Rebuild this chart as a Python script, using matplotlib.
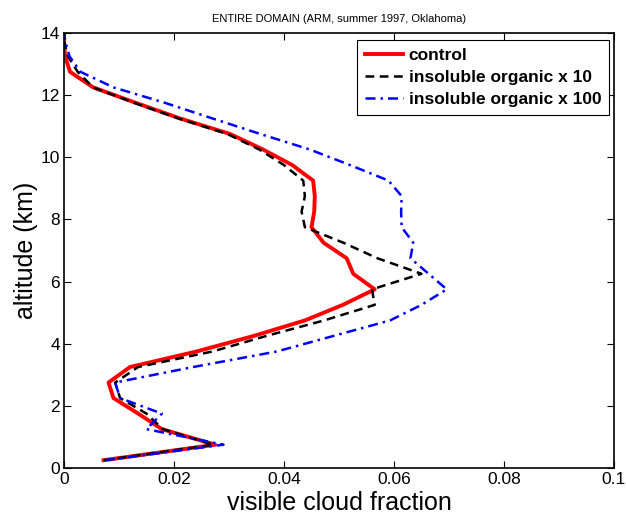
import matplotlib
matplotlib.use("Agg")
import matplotlib.pyplot as plt

plt.rcParams['font.family'] = ['Liberation Sans', 'DejaVu Sans']

# model levels (km) and visible cloud fraction for each run
altitude = [0.25, 0.75, 1.25, 1.75, 2.25, 2.75, 3.25, 3.75, 4.25, 4.75,
            5.25, 5.75, 6.25, 6.75, 7.25, 7.75, 8.25, 8.75, 9.25, 9.75,
            10.25, 10.75, 11.25, 11.75, 12.25, 12.75, 13.25, 13.75, 14.25]

control = [0.0072, 0.0275, 0.0178, 0.0135, 0.0090, 0.0081, 0.0120, 0.0241, 0.0345, 0.0438,
           0.0507, 0.0565, 0.0526, 0.0514, 0.0472, 0.0450, 0.0455, 0.0456, 0.0453, 0.0415,
           0.0362, 0.0302, 0.0211, 0.0131, 0.0053, 0.0011, 0.0002, 0.0, 0.0]

organic_x10 = [0.0072, 0.0272, 0.0180, 0.0150, 0.0102, 0.0093, 0.0135, 0.0270, 0.0368, 0.0473,
               0.0565, 0.0560, 0.0650, 0.0570, 0.0508, 0.0438, 0.0432, 0.0438, 0.0435, 0.0400,
               0.0355, 0.0297, 0.0208, 0.0128, 0.0053, 0.0025, 0.0007, 0.0, 0.0]

organic_x100 = [0.0075, 0.0290, 0.0150, 0.0178, 0.0102, 0.0093, 0.0235, 0.0387, 0.0490, 0.0593,
                0.0650, 0.0696, 0.0663, 0.0630, 0.0635, 0.0614, 0.0613, 0.0614, 0.0590, 0.0520,
                0.0447, 0.0357, 0.0270, 0.0184, 0.0090, 0.0030, 0.0010, 0.0002, 0.0]

run_names = ['control', 'insoluble organic x 10', 'insoluble organic x 100']

fig = plt.figure(figsize=(6.26, 5.14), dpi=100)
ax = fig.add_axes([0.1022, 0.0895, 0.8786, 0.8463])

ax.plot(control, altitude, color='red', lw=2.8, label=run_names[0])
ax.plot(organic_x10, altitude, color='black', lw=1.8, dashes=(3.5, 2.2), label=run_names[1])
ax.plot(organic_x100, altitude, color='blue', lw=1.8, dashes=(4, 2, 1, 2), label=run_names[2])

ax.set_xlim(0, 0.1)
ax.set_ylim(0, 14)
ax.set_xticks([0, 0.02, 0.04, 0.06, 0.08, 0.1])
ax.set_xticklabels(['0', '0.02', '0.04', '0.06', '0.08', '0.1'])
ax.set_yticks([0, 2, 4, 6, 8, 10, 12, 14])
ax.tick_params(direction='in', top=True, right=True, length=5, width=0.8,
               labelsize=12.5, pad=3)
for s in ax.spines.values():
    s.set_linewidth(1.2)

ax.set_xlabel('visible cloud fraction', fontsize=18, labelpad=3)
ax.set_ylabel('altitude (km)', fontsize=18, labelpad=2)
ax.set_title('ENTIRE DOMAIN (ARM, summer 1997, Oklahoma)', fontsize=8, pad=8)

leg = ax.legend(loc='upper right', bbox_to_anchor=(0.991, 0.984), fancybox=False,
                edgecolor='black', framealpha=1, borderaxespad=0,
                prop={'weight': 'bold', 'size': 12.5}, handlelength=2.2,
                handletextpad=0.3, labelspacing=0.4, borderpad=0.45)
leg.get_frame().set_linewidth(0.8)

fig.savefig('out.png', dpi=100)
